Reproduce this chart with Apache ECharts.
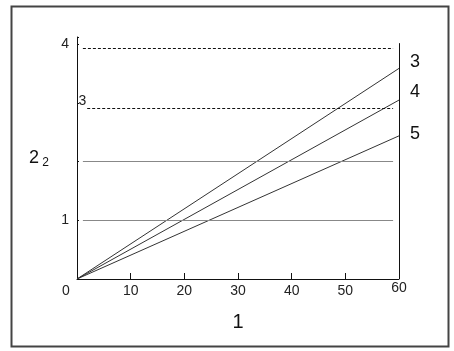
<!DOCTYPE html>
<html><head><meta charset="utf-8">
<script src="https://cdn.jsdelivr.net/npm/echarts@6/dist/echarts.min.js"></script>
<style>html,body{margin:0;padding:0;background:#fff}#c{width:454px;height:351px}</style>
</head><body><div id="c"></div>
<script>
// ---- data ----
const xValues = [0, 60];
const seriesNames = ['3', '4', '5'];
const line3 = [0, 3.59];
const line4 = [0, 3.05];
const line5 = [0, 2.44];
const solidGridValues = [1, 2];
const dashedGridValues = [2.91, 3.93];
const dashedGridLabels = ['3', ''];
const gridXRange = [1.1, 58.9];
const yTickLabels = ['1', '4'];
const xAxisName = '1';
const yAxisName = '2';
const yAxisSub = '2';
const rightAxisTop = 4.02;

const FONT = 'Liberation Sans, Arial, sans-serif';
const chart = echarts.init(document.getElementById('c'), null, {renderer: 'canvas'});

function mkLine(name, vals, offset) {
  return {
    type: 'line', name: name,
    data: xValues.map((x, i) => [x, vals[i]]),
    symbol: 'none', silent: true,
    lineStyle: {color: '#333', width: 1},
    endLabel: {show: true, formatter: name, fontSize: 18, color: '#111',
               fontFamily: FONT, offset: offset}
  };
}

const markData = [];
solidGridValues.forEach(v => markData.push([
  {coord: [gridXRange[0], v], lineStyle: {color: '#888', width: 1, type: 'solid'}, label: {show: false}},
  {coord: [gridXRange[1], v]}
]));
dashedGridValues.forEach((v, i) => markData.push([
  {coord: [i === 0 ? gridXRange[0] + 0.8 : gridXRange[0], v],
   lineStyle: {color: '#111', width: 1, type: [3, 2]},
   label: {show: dashedGridLabels[i] !== '', formatter: '{t|' + dashedGridLabels[i] + '}', position: 'start',
           distance: 1, color: '#222', fontFamily: FONT,
           rich: {t: {fontSize: 14, fontFamily: FONT, color: '#222', padding: [0, 0, 15, 0]}}}},
  {coord: [gridXRange[1], v]}
]));
markData.push([
  {coord: [60, 0], lineStyle: {color: '#111', width: 1, type: 'solid'}, label: {show: false}},
  {coord: [60, rightAxisTop]}
]);

chart.setOption({
  animation: false,
  backgroundColor: '#fff',
  grid: {left: 77, right: 55, top: 37, bottom: 72},
  xAxis: {
    type: 'value', min: 0, max: 60, interval: 10,
    name: xAxisName, nameLocation: 'middle', nameGap: 33,
    nameTextStyle: {fontSize: 20, color: '#111', fontFamily: FONT},
    axisLine: {lineStyle: {color: '#111', width: 1}},
    axisTick: {inside: true, length: 6, lineStyle: {color: '#111'}},
    splitLine: {show: false},
    axisLabel: {
      margin: 5, fontSize: 14, color: '#222', fontFamily: FONT,
      formatter: v => v === 0 ? '{z|0}' : (v === 60 ? '{s|60}' : String(v)),
      rich: {z: {fontSize: 14, padding: [0, 22, 0, 0], fontFamily: FONT, color: '#222'},
             s: {fontSize: 14, padding: [0, 0, 0, 0], fontFamily: FONT, color: '#222', lineHeight: 9}}
    }
  },
  yAxis: {
    type: 'value', min: 0, max: 4.125, interval: 1,
    name: '{a|' + yAxisName + '} {b|' + yAxisSub + '}', nameLocation: 'middle', nameRotate: 0, nameGap: 28,
    nameTextStyle: {
      fontFamily: FONT, color: '#111',
      rich: {a: {fontSize: 18, fontFamily: FONT, color: '#111'},
             b: {fontSize: 12, fontFamily: FONT, color: '#111', padding: [9, 0, 0, 0]}}
    },
    axisLine: {show: true, lineStyle: {color: '#111', width: 1}},
    axisTick: {inside: true, length: 2, lineStyle: {color: '#111'}},
    splitLine: {show: false},
    axisLabel: {
      margin: 8, fontSize: 14, color: '#222', fontFamily: FONT,
      formatter: v => yTickLabels.indexOf(String(v)) >= 0 ? String(v) : ''
    }
  },
  series: [
    mkLine(seriesNames[0], line3, [3, -6]),
    mkLine(seriesNames[1], line4, [3, -8]),
    mkLine(seriesNames[2], line5, [3, -2])
  ].concat([
    {type: 'line', data: [], silent: true,
     markLine: {symbol: 'none', silent: true, animation: false, data: markData}}
  ]),
  graphic: [{
    type: 'rect', silent: true, z: 100,
    shape: {x: 11.5, y: 6.5, width: 437, height: 340},
    style: {fill: 'none', stroke: '#444', lineWidth: 2}
  }]
});
</script></body></html>
